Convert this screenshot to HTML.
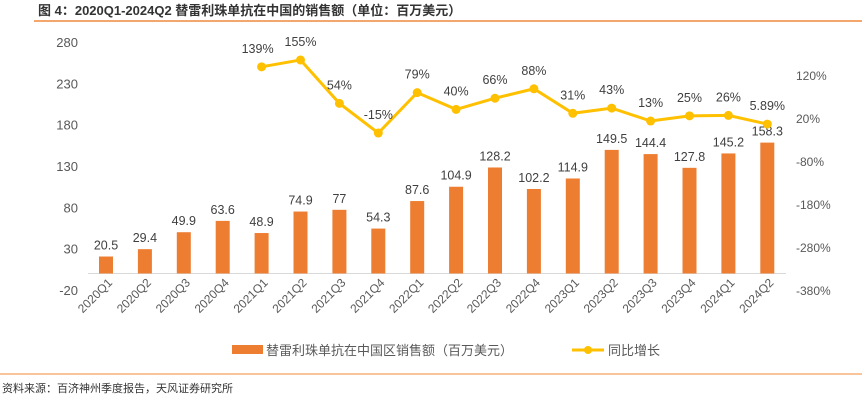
<!DOCTYPE html>
<html><head><meta charset="utf-8"><style>
body{margin:0;background:#fff;width:862px;height:401px;overflow:hidden;font-family:"Liberation Sans","Noto Sans CJK SC",sans-serif}
svg text{font-family:"Liberation Sans","Noto Sans CJK SC",sans-serif}
</style></head><body>
<svg id="c" width="862" height="401">
<text x="38" y="15" font-size="13" font-weight="bold" fill="#333">图 4：2020Q1-2024Q2 替雷利珠单抗在中国的销售额（单位：百万美元）</text>
<line x1="34" y1="21" x2="862" y2="21" stroke="#f08a3c" stroke-width="1.5"/>
<line x1="0" y1="374" x2="862" y2="374" stroke="#f5a05e" stroke-width="1.2"/>
<text x="2" y="392" font-size="11" fill="#333">资料来源：百济神州季度报告，天风证券研究所</text>
<g id="g"></g>
<g>
<rect x="232" y="345" width="31" height="9" fill="#ed7d31"/>
<text x="266" y="355" font-size="13" fill="#595959">替雷利珠单抗在中国区销售额（百万美元）</text>
<line x1="572" y1="350" x2="604" y2="350" stroke="#ffc000" stroke-width="3"/>
<circle cx="588" cy="350" r="4" fill="#ffc000"/>
<text x="608" y="355" font-size="13" fill="#595959">同比增长</text>
</g>
</svg>
<script>
const categories=["2020Q1","2020Q2","2020Q3","2020Q4","2021Q1","2021Q2","2021Q3","2021Q4","2022Q1","2022Q2","2022Q3","2022Q4","2023Q1","2023Q2","2023Q3","2023Q4","2024Q1","2024Q2"];
const sales=[20.5,29.4,49.9,63.6,48.9,74.9,77,54.3,87.6,104.9,128.2,102.2,114.9,149.5,144.4,127.8,145.2,158.3];
const growth=[null,null,null,null,139,155,54,-15,79,40,66,88,31,43,13,25,26,5.89];
const growthLabels=["","","","","139%","155%","54%","-15%","79%","40%","66%","88%","31%","43%","13%","25%","26%","5.89%"];
const leftTicks=[-20,30,80,130,180,230,280];
const rightTicks=[-380,-280,-180,-80,20,120];
const NS="http://www.w3.org/2000/svg";
const g=document.getElementById('g');
function yL(v){return 290-(v+20)*248/300;}
function yR(v){return 290-(v+380)*0.43;}
function xC(i){return 106+i*38.9;}
function el(t,a,txt){const e=document.createElementNS(NS,t);for(const k in a)e.setAttribute(k,a[k]);if(txt!==undefined)e.textContent=txt;g.appendChild(e);return e;}
leftTicks.forEach(v=>{const e=el('text',{x:78,y:yL(v)+5,'font-size':13,fill:'#595959','text-anchor':'end'},String(v));

});
rightTicks.forEach(v=>{const e=el('text',{x:796,y:yR(v)+5,'font-size':12,fill:'#595959'},v+'%');

});
const ax=el('line',{x1:88,x2:786,y1:yL(0),y2:yL(0),stroke:'#d9d9d9','stroke-width':1});


categories.forEach((c,i)=>{
const x=xC(i),y=yL(sales[i]);
const b=el('rect',{x:x-7,y:y,width:14,height:yL(0)-y,fill:'#ed7d31'});


const t=el('text',{x:x,y:y-7,'font-size':12.5,fill:'#404040','text-anchor':'middle'},String(sales[i]));


const xl=el('text',{x:x+7,y:yL(0)+10,'font-size':12,fill:'#595959','text-anchor':'end',transform:`rotate(-45 ${x+7} ${yL(0)+10})`},c);


});
let pts=[];growth.forEach((v,i)=>{if(v!==null)pts.push([xC(i),yR(v)]);});
const pl=el('polyline',{points:pts.map(p=>p.join(',')).join(' '),fill:'none',stroke:'#ffc000','stroke-width':3});


growth.forEach((v,i)=>{if(v===null)return;
const p=el('circle',{cx:xC(i),cy:yR(v),r:4.5,fill:'#ffc000'});


const t=el('text',{x:xC(i)+(i==4?-4:0),y:yR(v)-14,'font-size':12.5,fill:'#404040','text-anchor':'middle'},growthLabels[i]);


});
</script>
</body></html>
